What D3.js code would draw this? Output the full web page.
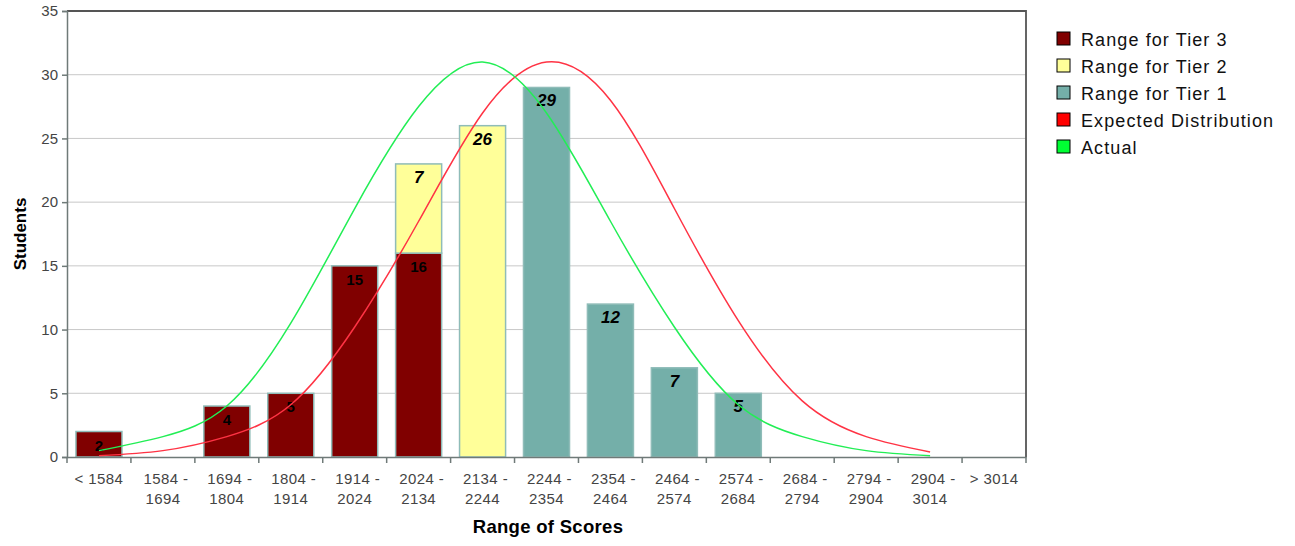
<!DOCTYPE html>
<html>
<head>
<meta charset="utf-8">
<script src="https://cdn.jsdelivr.net/npm/d3@7"></script>
<style>
  body { margin: 0; background: #fff; }
  svg { font-family: "Liberation Sans", Arial, sans-serif; }
</style>
</head>
<body>
<svg width="1295" height="546"></svg>
<script>
// categories (score ranges)
const ranges = ["< 1584", "1584 - 1694", "1694 - 1804", "1804 - 1914", "1914 - 2024",
  "2024 - 2134", "2134 - 2244", "2244 - 2354", "2354 - 2464", "2464 - 2574",
  "2574 - 2684", "2684 - 2794", "2794 - 2904", "2904 - 3014", "> 3014"]

// bar series
const tier3 = [2, 0, 4, 5, 15, 16, 0, 0, 0, 0, 0, 0, 0, 0, 0]
const tier2 = [0, 0, 0, 0, 0, 7, 26, 0, 0, 0, 0, 0, 0, 0, 0]
const tier1 = [0, 0, 0, 0, 0, 0, 0, 29, 12, 7, 5, 0, 0, 0, 0]

// line series (first 14 categories)
const actual   = [0.5, 1.6, 4, 10.5, 19.5, 27.5, 31, 27, 18.5, 10.2, 4.1, 1.6, 0.5, 0.1]
const expected = [0.1, 0.5, 1.6, 4.1, 10.2, 18.5, 27, 31, 28, 19.5, 10.7, 4.4, 1.6, 0.4]

const yTicks = [0, 5, 10, 15, 20, 25, 30, 35]

const legendItems = [
  { name: "Range for Tier 3", color: "#800000" },
  { name: "Range for Tier 2", color: "#ffff99" },
  { name: "Range for Tier 1", color: "#74afa9" },
  { name: "Expected Distribution", color: "#ff0000" },
  { name: "Actual", color: "#00ff33" }
]

const svg = d3.select("svg")
const plotL = 67, plotR = 1026, plotT = 11, plotB = 457

const x = d3.scaleBand().domain(ranges).range([plotL, plotR]).paddingInner(0.28).paddingOuter(0.14)
const y = d3.scaleLinear().domain([0, 35]).range([plotB, plotT])
const cx = i => x(ranges[i]) + x.bandwidth() / 2

// grid
svg.append("g").selectAll("line")
  .data(yTicks.filter(d => d > 0 && d < 35)).enter()
  .append("line")
  .attr("x1", plotL).attr("x2", plotR)
  .attr("y1", d => y(d)).attr("y2", d => y(d))
  .attr("stroke", "#c8c8c8").attr("stroke-width", 1)

// frame top/right
svg.append("path")
  .attr("d", `M${plotL},${plotT}H${plotR}V${plotB}`)
  .attr("fill", "none").attr("stroke", "#555").attr("stroke-width", 1.8)

// stacked bars
const stackData = ranges.map((r, i) => ({ range: r, t3: tier3[i], t2: tier2[i], t1: tier1[i] }))
const stack = d3.stack().keys(["t3", "t2", "t1"])(stackData)
const colors = { t3: "#800000", t2: "#ffff99", t1: "#74afa9" }

const layers = svg.append("g").selectAll("g")
  .data(stack).enter()
  .append("g")
  .attr("fill", d => colors[d.key])

layers.selectAll("rect")
  .data(d => d.filter(p => p[1] - p[0] > 0)).enter()
  .append("rect")
  .attr("x", d => x(d.data.range))
  .attr("width", x.bandwidth())
  .attr("y", d => y(d[1]))
  .attr("height", d => y(d[0]) - y(d[1]))
  .attr("stroke", "#8fbcb8").attr("stroke-width", 1.5)

// curves
const line = d3.line()
  .x((d, i) => cx(i))
  .y(d => y(d))
  .curve(d3.curveNatural)

svg.append("path").datum(expected)
  .attr("d", line).attr("fill", "none")
  .attr("stroke", "#ff3344").attr("stroke-width", 1.5)

svg.append("path").datum(actual)
  .attr("d", line).attr("fill", "none")
  .attr("stroke", "#22ee55").attr("stroke-width", 1.5)

// value labels
layers.selectAll("text")
  .data(d => d.filter(p => p[1] - p[0] > 0).map(p => ({ p: p, key: d.key }))).enter()
  .append("text")
  .attr("x", d => x(d.p.data.range) + x.bandwidth() / 2)
  .attr("y", d => y(d.p[1]) + 19)
  .attr("text-anchor", "middle")
  .attr("fill", "#000")
  .style("font-weight", "bold")
  .style("font-style", d => d.key === "t3" ? "normal" : "italic")
  .style("font-size", d => d.key === "t3" ? "15px" : "17px")
  .text(d => d.p[1] - d.p[0])

// y axis
const yAxis = svg.append("g")
  .attr("transform", `translate(${plotL},0)`)
  .call(d3.axisLeft(y).tickValues(yTicks).tickSize(5).tickPadding(4))
yAxis.select(".domain").attr("stroke", "#6f7a78").attr("stroke-width", 1.5)
yAxis.selectAll(".tick line").attr("stroke", "#6f7a78").attr("stroke-width", 1.5)
yAxis.selectAll(".tick text").attr("fill", "#444").style("font-size", "15px")

// x axis
const xAxis = svg.append("g")
  .attr("transform", `translate(0,${plotB})`)
  .call(d3.axisBottom(x).tickSize(0).tickFormat(""))
xAxis.select(".domain").attr("stroke", "#6f7a78").attr("stroke-width", 1.5)

const step = x.step()
const xStart = x(ranges[0]) - x.paddingOuter() * step
svg.append("g").selectAll("line")
  .data(d3.range(ranges.length + 1)).enter()
  .append("line")
  .attr("x1", i => xStart + i * step).attr("x2", i => xStart + i * step)
  .attr("y1", plotB).attr("y2", plotB + 6)
  .attr("stroke", "#6f7a78").attr("stroke-width", 1.5)

const xLabels = svg.append("g").selectAll("text")
  .data(ranges).enter()
  .append("text")
  .attr("text-anchor", "middle")
  .attr("fill", "#444")
  .style("font-size", "15px")
  .style("letter-spacing", "0.4px")

xLabels.each(function (d) {
  const parts = d.includes(" - ") ? [d.split(" - ")[0] + " -", d.split(" - ")[1]] : [d]
  const t = d3.select(this)
  parts.forEach((p, k) => {
    t.append("tspan")
      .attr("x", cx(ranges.indexOf(d)) + (k === 0 && parts.length > 1 ? 3 : 0))
      .attr("y", 484 + k * 19.5)
      .text(p)
  })
})

// axis titles
svg.append("text")
  .attr("transform", "translate(26,234) rotate(-90)")
  .attr("text-anchor", "middle")
  .style("font-weight", "bold").style("font-size", "17px")
  .text("Students")

svg.append("text")
  .attr("x", 548).attr("y", 533)
  .attr("text-anchor", "middle")
  .style("font-weight", "bold").style("font-size", "18.5px")
  .style("letter-spacing", "0.3px")
  .text("Range of Scores")

// legend
const legend = svg.append("g").selectAll("g")
  .data(legendItems).enter()
  .append("g")
  .attr("transform", (d, i) => `translate(1057,${32 + i * 27})`)

legend.append("rect")
  .attr("width", 13).attr("height", 13)
  .attr("fill", d => d.color)
  .attr("stroke", "#000").attr("stroke-width", 1)

legend.append("text")
  .attr("x", 24).attr("y", 13.5)
  .style("font-size", "18px")
  .style("letter-spacing", "1.1px")
  .attr("fill", "#111")
  .text(d => d.name)
</script>
</body>
</html>
